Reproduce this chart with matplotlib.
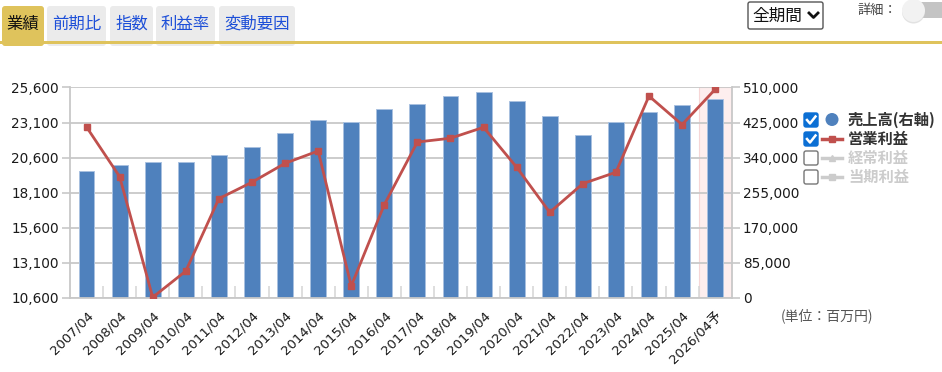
import numpy as np
import matplotlib
matplotlib.use('Agg')
import matplotlib.pyplot as plt
from matplotlib.patches import FancyBboxPatch, Circle, Rectangle
from matplotlib.lines import Line2D

plt.rcParams['font.family'] = ['DejaVu Sans', 'Noto Sans CJK JP']

# data (百万円)
periods = ['2007/04', '2008/04', '2009/04', '2010/04', '2011/04', '2012/04', '2013/04',
           '2014/04', '2015/04', '2016/04', '2017/04', '2018/04', '2019/04', '2020/04',
           '2021/04', '2022/04', '2023/04', '2024/04', '2025/04', '2026/04予']
sales = [307400, 322700, 328500, 328500, 346200, 364900, 398900, 431900, 425600, 458600,
         470700, 489400, 498400, 477200, 440900, 395500, 425600, 449800, 468300, 482800]
op_profit = [22780, 19240, 10630, 12500, 17670, 18840, 20190, 21070, 11440, 17240,
             21710, 21980, 22760, 19910, 16690, 18740, 19550, 24990, 22950, 25470]
left_ticks = [10600, 13100, 15600, 18100, 20600, 23100, 25600]
right_ticks = [0, 85000, 170000, 255000, 340000, 425000, 510000]

W, H = 942, 372
fig = plt.figure(figsize=(W / 100, H / 100), dpi=100)

x0, x1, ytop, ybot = 70, 731.7, 87.5, 297.7
ax = fig.add_axes([x0 / W, (H - ybot) / H, (x1 - x0) / W, (ybot - ytop) / H])
x = np.arange(len(periods))
grid_c = '#c8c8c8'
tick_c = '#1a1a1a'

# bars on right axis
ax.axvspan(len(periods) - 1.5, len(periods) - 0.5, facecolor='#fdeeee', edgecolor='#f6d6d6', lw=0.8, zorder=0)
ax.bar(x, sales, width=0.48, color='#4f81bd', edgecolor='#a9c1e0', linewidth=0.7, zorder=2)
ax.set_xlim(-0.5, len(periods) - 0.5)
ax.set_ylim(right_ticks[0], right_ticks[-1])
ax.set_yticks(right_ticks)
ax.set_yticklabels(['{:,}'.format(v) for v in right_ticks])
ax.yaxis.grid(True, color=grid_c, lw=1.3, zorder=1)
ax.set_axisbelow(True)

ax.set_xticks(x)
ax.set_xticklabels(periods, rotation=45, ha='right', va='top', rotation_mode='anchor',
                   fontsize=9.5, color=tick_c)
ax.set_xticks(np.arange(0.5, len(periods) - 1, 1.0), minor=True)
ax.tick_params(axis='x', which='major', length=0, pad=8)
ax.tick_params(axis='x', which='minor', direction='in', length=9, width=1.2, color='#d8d8d8')
ax.spines['top'].set_visible(False)
for s in ['left', 'right', 'bottom']:
    ax.spines[s].set_color(grid_c)
    ax.spines[s].set_linewidth(1.3)

# operating profit on left axis
axl = ax.twinx()
axl.plot(x, op_profit, color='#c0504d', lw=2, marker='s', markersize=4.5, zorder=3)
axl.set_ylim(left_ticks[0], left_ticks[-1])
axl.set_yticks(left_ticks)
axl.set_yticklabels(['{:,}'.format(v) for v in left_ticks])
for s in axl.spines.values():
    s.set_visible(False)

# twinx moves the original ticks to the left: swap sides back
ax.yaxis.tick_right()
ax.yaxis.set_label_position('right')
axl.yaxis.tick_left()
axl.yaxis.set_label_position('left')
ax.tick_params(axis='y', left=False, right=True, labelleft=False, labelright=True,
               length=6, width=1.2, color=grid_c, labelsize=9.8, labelcolor=tick_c, pad=2)
axl.tick_params(axis='y', left=True, right=False, labelleft=True, labelright=False,
                length=6, width=1.2, color=grid_c, labelsize=9.8, labelcolor=tick_c, pad=2)

# overlay in pixel coordinates for page furniture
ov = fig.add_axes([0, 0, 1, 1])
ov.set_xlim(0, W)
ov.set_ylim(H, 0)
ov.axis('off')
cjk = ['Noto Sans CJK JP', 'DejaVu Sans']

# tabs
tabs = [('業績', 2, 44), ('前期比', 47, 106), ('指数', 110, 153), ('利益率', 156, 215), ('変動要因', 219, 295)]
for i, (t, a, b) in enumerate(tabs):
    fc = '#dfc35c' if i == 0 else '#ebebeb'
    ov.add_patch(FancyBboxPatch((a, 6), b - a, 40, boxstyle='round,pad=0,rounding_size=3',
                                fc=fc, ec='none'))
    ov.text((a + b) / 2, 24, t, ha='center', va='center', fontsize=11.8, family=cjk,
            color='#111111' if i == 0 else '#1d4fd8')
ov.add_patch(Rectangle((0, 41), W, 3, fc='#dfc35c', ec='none'))

# period select
ov.add_patch(FancyBboxPatch((748, 2), 75, 27, boxstyle='round,pad=0,rounding_size=2',
                            fc='white', ec='#555555', lw=1))
ov.text(752, 16, '全期間', ha='left', va='center', fontsize=12, family=cjk, color='#111111')
ov.add_line(Line2D([809, 813.5, 818], [13, 17.5, 13], color='#111111', lw=2))

# detail toggle
ov.text(857, 10, '詳細：', ha='left', va='center', fontsize=9.5, family=cjk, color='#444444')
ov.add_patch(FancyBboxPatch((912, 2), 40, 16, boxstyle='round,pad=0,rounding_size=8',
                            fc='#c4c4c4', ec='none'))
ov.add_patch(Circle((913.5, 12), 11.5, fc='#d6d6d6', ec='none', alpha=0.7))
ov.add_patch(Circle((913.5, 10.5), 11.5, fc='#f2f2f2', ec='none'))

# legend
rows = [(120, '売上高(右軸)', True), (139, '営業利益', True), (158, '経常利益', False), (177, '当期利益', False)]
for i, (yy, label, on) in enumerate(rows):
    if on:
        ov.add_patch(FancyBboxPatch((804, yy - 7), 14, 14, boxstyle='round,pad=0,rounding_size=2',
                                    fc='#0b6fd4', ec='#0b6fd4', lw=1))
        ov.add_line(Line2D([807, 810, 815.5], [yy, yy + 3.5, yy - 3.5], color='white', lw=1.8))
    else:
        ov.add_patch(FancyBboxPatch((804, yy - 7), 14, 14, boxstyle='round,pad=0,rounding_size=2',
                                    fc='white', ec='#767676', lw=1))
    if i == 0:
        ov.add_patch(Circle((832, yy - 0.5), 6.5, fc='#4f81bd', ec='none'))
    elif i == 1:
        ov.add_line(Line2D([822, 842], [yy, yy], color='#c0504d', lw=2.5))
        ov.add_line(Line2D([832], [yy], color='#c0504d', marker='s', markersize=4.5))
    else:
        ov.add_line(Line2D([822, 842], [yy, yy], color='#cccccc', lw=2.5))
        ov.add_line(Line2D([832], [yy], color='#cccccc', marker='^' if i == 2 else 's',
                           markersize=4))
    ov.text(848, yy, label, ha='left', va='center', fontsize=11, family=cjk, weight='bold',
            color='#333333' if on else '#cccccc')

ov.text(781, 316, '(単位：百万円)', ha='left', va='center', fontsize=10, family=cjk, color='#555555')

fig.savefig('out.png', dpi=100)
